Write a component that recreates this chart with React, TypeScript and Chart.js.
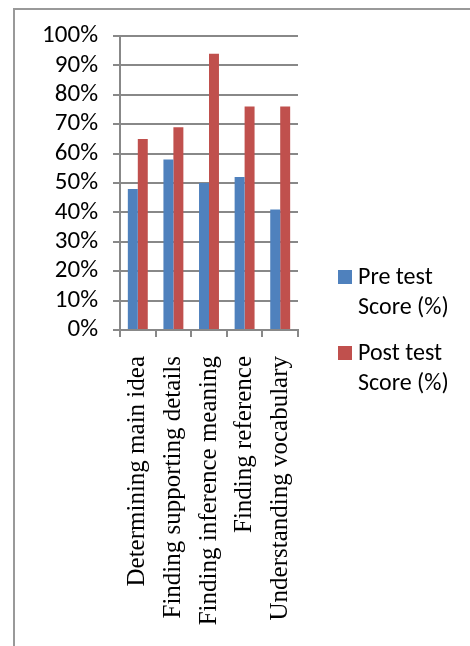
import React, { useEffect, useRef } from "react";
import { Chart, registerables } from "chart.js";

Chart.register(...registerables);

const categories = [
  "Determining main idea",
  "Finding supporting details",
  "Finding inference meaning",
  "Finding reference",
  "Understanding vocabulary",
];
const preTest = [48, 58, 50, 52, 41];
const postTest = [65, 69, 94, 76, 76];
const seriesLines = [
  ["Pre test", "Score (%)"],
  ["Post test", "Score (%)"],
];
const seriesColors = ["#4f81bd", "#c0504d"];

const sansFont = "Carlito, Calibri, Lato, 'Noto Sans', sans-serif";
const serifFont = "'Liberation Serif', 'Times New Roman', serif";

const legendPlugin = {
  id: "sideLegend",
  afterDraw(chart: any) {
    const ctx = chart.ctx;
    const area = chart.chartArea;
    const x0 = area.right + 40;
    const y0 = area.top + 234;
    ctx.save();
    chart.data.datasets.forEach((ds: any, i: number) => {
      const top = y0 + i * 76;
      ctx.fillStyle = ds.backgroundColor;
      ctx.fillRect(x0, top, 14, 14);
      ctx.fillStyle = "#000";
      ctx.font = "24px " + sansFont;
      ctx.textBaseline = "alphabetic";
      ctx.textAlign = "left";
      const lines = seriesLines[i];
      lines.forEach((ln: string, j: number) => {
        ctx.fillText(ln, x0 + 20, top + 14 + j * 30);
      });
    });
    ctx.restore();
  },
};

export default function App() {
  const ref = useRef<HTMLCanvasElement | null>(null);
  useEffect(() => {
    if (!ref.current) return;
    const chart = new Chart(ref.current, {
      type: "bar",
      data: {
        labels: categories,
        datasets: [
          {
            label: seriesLines[0].join(" "),
            data: preTest,
            backgroundColor: seriesColors[0],
            categoryPercentage: 0.56,
            barPercentage: 1,
          },
          {
            label: seriesLines[1].join(" "),
            data: postTest,
            backgroundColor: seriesColors[1],
            categoryPercentage: 0.56,
            barPercentage: 1,
          },
        ],
      },
      options: {
        animation: false,
        responsive: false,
        layout: { padding: { left: 0, top: 36, right: 172, bottom: 0 } },
        plugins: { legend: { display: false }, tooltip: { enabled: false } },
        scales: {
          x: {
            grid: {
              display: true,
              drawOnChartArea: false,
              drawTicks: true,
              tickLength: 7,
              color: "#888888",
              lineWidth: 2,
              offset: true,
            },
            border: { display: true, color: "#888888", width: 2 },
            ticks: {
              autoSkip: false,
              maxRotation: 90,
              minRotation: 90,
              padding: 19,
              color: "#000",
              font: { family: serifFont, size: 25 },
            },
            afterFit(scale: any) {
              scale.height = 316;
            },
          },
          y: {
            min: 0,
            max: 100,
            grid: {
              color: "#888888",
              lineWidth: 2,
              drawTicks: true,
              tickLength: 7,
            },
            border: { display: true, color: "#888888", width: 2 },
            ticks: {
              autoSkip: false,
              stepSize: 10,
              padding: 15,
              color: "#000",
              font: { family: sansFont, size: 25 },
              callback: (v: any) => v + "%",
            },
            afterFit(scale: any) {
              scale.width = 120;
            },
          },
        },
      },
      plugins: [legendPlugin],
    });
    return () => chart.destroy();
  }, []);
  return (
    <div style={{ position: "fixed", left: 0, top: 0, width: 470, height: 646, background: "#fff", overflow: "hidden" }}>
      <div
        style={{
          position: "absolute",
          left: 13,
          top: 8,
          width: 600,
          height: 800,
          borderLeft: "2px solid #999",
          borderTop: "2px solid #999",
        }}
      />
      <canvas ref={ref} width={470} height={646} style={{ position: "absolute", left: 0, top: 0 }} />
    </div>
  );
}
